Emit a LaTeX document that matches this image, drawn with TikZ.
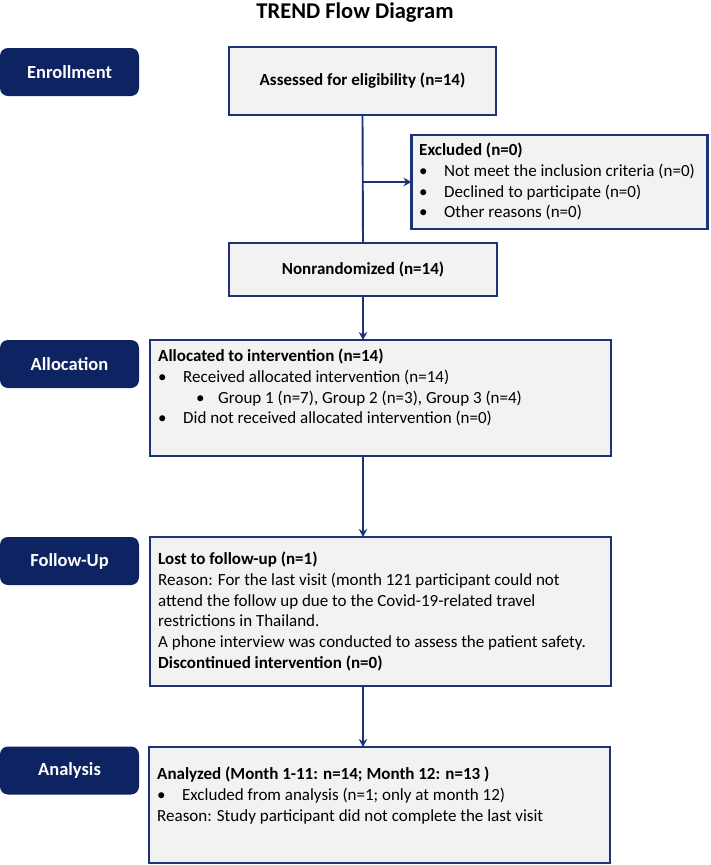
\documentclass[tikz,border=0pt]{standalone}
\usepackage{fontspec}
\setmainfont{Carlito}
\usetikzlibrary{arrows.meta}
\definecolor{navy}{RGB}{13,35,98}
\definecolor{boxline}{RGB}{28,52,118}
\definecolor{boxfill}{RGB}{242,242,242}
\newcommand{\bul}{\makebox[25pt][l]{\textbullet}}
\newcommand{\subbul}{\hspace*{38pt}\makebox[22pt][l]{\textbullet}}
\begin{document}
\begin{tikzpicture}[x=1pt,y=-1pt,
  stage/.style={fill=navy, rounded corners=8pt, minimum width=139pt, minimum height=48pt, inner sep=0pt, outer sep=0pt, text=white, font=\fontsize{18.5}{22}\selectfont\bfseries},
  box/.style={draw=boxline, line width=2.4pt, fill=boxfill, inner sep=0pt, outer sep=0pt},
  txt/.style={inner sep=0pt, align=left, anchor=north west, font=\fontsize{17}{20.7}\selectfont},
  link/.style={draw=boxline, line width=1.9pt},
  arr/.style={link, -{Stealth[length=8pt,width=8.5pt]}}]
\useasboundingbox (0,0) rectangle (710,865);
\node[font=\fontsize{22.5}{26}\selectfont\bfseries] (title) at (355,13) {TREND Flow Diagram};
% stages on the left
\node[stage] (enroll) at (69.5,72) {Enrollment};
\node[stage] (allocst) at (69.5,364) {Allocation};
\node[stage] (followst) at (69.5,561) {Follow-Up};
\node[stage] (analyst) at (69.5,770.5) {Analysis};
% boxes
\node[box, minimum width=267pt, minimum height=68pt] (assess) at (362.5,81) {};
\node[box, minimum width=296pt, minimum height=94pt] (excl) at (559.5,182) {};
\node[box, minimum width=268pt, minimum height=53pt] (nonrand) at (363,269.5) {};
\node[box, minimum width=461pt, minimum height=116pt] (alloc) at (380.5,398) {};
\node[box, minimum width=461pt, minimum height=149pt] (follow) at (380.5,611.5) {};
\node[box, minimum width=461pt, minimum height=116pt] (analysis) at (379.5,805) {};
% texts
\node[font=\fontsize{17}{20.7}\selectfont\bfseries] (assesstxt) at (assess) {Assessed for eligibility (n=14)};
\node[font=\fontsize{17}{20.7}\selectfont\bfseries] (nonrandtxt) at (nonrand) {Nonrandomized (n=14)};
\node[txt] (excltxt) at (419,143) {\textbf{Excluded (n=0)}\\
  \bul Not meet the inclusion criteria (n=0)\\
  \bul Declined to participate (n=0)\\
  \bul Other reasons (n=0)};
\node[txt] (alloctxt) at (158,349) {\textbf{Allocated to intervention (n=14)}\\
  \bul Received allocated intervention (n=14)\\
  \subbul Group 1 (n=7), Group 2 (n=3), Group 3 (n=4)\\
  \bul Did not received allocated intervention (n=0)};
\node[txt] (followtxt) at (158,552) {\textbf{Lost to follow-up (n=1)}\\
  Reason: For the last visit (month 121 participant could not\\
  attend the follow up due to the Covid-19-related travel\\
  restrictions in Thailand.\\
  A phone interview was conducted to assess the patient safety.\\
  \textbf{Discontinued intervention (n=0)}};
\node[txt] (analysistxt) at (157,767) {\textbf{Analyzed (Month 1-11: n=14; Month 12: n=13 )}\\
  \bul Excluded from analysis (n=1; only at month 12)\\
  Reason: Study participant did not complete the last visit};
% connectors
\coordinate (branch) at (assess.south |- excl.west);
\draw[link] (assess.south) -- (nonrand.north);
\draw[arr] (branch) -- (excl.west);
\draw[arr] (nonrand.south) -- (nonrand.south |- alloc.north);
\draw[arr] (nonrand.south |- alloc.south) -- (nonrand.south |- follow.north);
\draw[arr] (nonrand.south |- follow.south) -- (nonrand.south |- analysis.north);
\end{tikzpicture}
\end{document}
